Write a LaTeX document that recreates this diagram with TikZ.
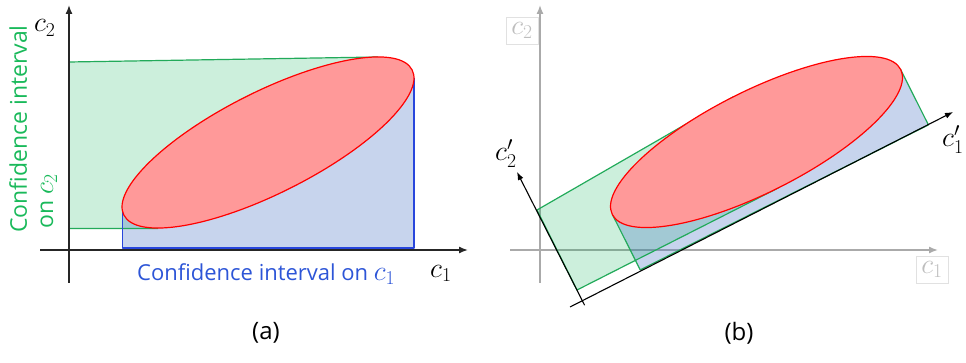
\RequirePackage{fix-cm}
\documentclass[tikz,border=0pt]{standalone}
\usepackage{fontspec}
\setmainfont{Open Sans}
\usetikzlibrary{arrows.meta,shapes.geometric}
\definecolor{gline}{RGB}{34,170,90}
\definecolor{gfill}{RGB}{0,176,80}
\definecolor{gtext}{RGB}{25,185,90}
\definecolor{bline}{RGB}{40,70,220}
\definecolor{bfill}{RGB}{68,114,196}
\definecolor{btext}{RGB}{45,85,215}
\definecolor{efill}{RGB}{255,153,153}
\definecolor{eline}{RGB}{255,0,0}
\definecolor{gaxis}{RGB}{170,170,170}
\definecolor{glabel}{RGB}{190,190,190}
\definecolor{gbox}{RGB}{225,225,225}
\newcommand{\mathbig}{\fontsize{28}{30}\selectfont}
\begin{document}
\begin{tikzpicture}[x=1pt,y=-1pt,
  axisline/.style={line width=1.4pt,draw=black!85,-{Latex[length=9pt,width=7pt]}},
  grayaxis/.style={line width=1.4pt,draw=gaxis,-{Latex[length=9pt,width=7pt]}},
  rotaxis/.style={line width=1.1pt,draw=black,-{Latex[length=8pt,width=6pt]}},
  greenfill/.style={fill=gfill,fill opacity=0.2,draw=none},
  bluefill/.style={fill=bfill,fill opacity=0.3,draw=none},
  greenedge/.style={draw=gline,line width=1.2pt,line join=round},
  blueedge/.style={draw=bline,line width=1.2pt,line join=round},
  conf/.style={ellipse,draw=eline,fill=efill,line width=1.2pt,inner sep=0pt,
    minimum width=322.8pt,minimum height=101.6pt,rotate=26.7},
  mlabel/.style={inner sep=0pt,font=\mathbig},
  graybox/.style={draw=gbox,line width=0.8pt,text=glabel,font=\mathbig,inner sep=0pt,
    minimum width=32pt,minimum height=27pt},
  caption/.style={font=\fontsize{24}{28}\selectfont,inner sep=0pt}
]
\useasboundingbox (0,0) rectangle (966,363);

% ---------------- (a) ----------------
\coordinate (gA1) at (69,62);
\coordinate (gA2) at (378,57);
\coordinate (gA3) at (158,228.5);
\coordinate (gA4) at (69,228.5);
\coordinate (bA1) at (122.5,207);
\coordinate (bA2) at (414,78);
\coordinate (bA3) at (414,248);
\coordinate (bA4) at (122.5,248);

\fill[greenfill] (gA1) -- (gA2) -- (gA3) -- (gA4) -- cycle;
\fill[bluefill] (bA1) -- (bA2) -- (bA3) -- (bA4) -- cycle;
\draw[greenedge] (gA2) -- (gA1) -- (gA4) -- (gA3);
\draw[blueedge] (bA1) -- (bA4) -- (bA3) -- (bA2);
\node[conf] (E1) at (268,142.5) {};

\coordinate (xa0) at (40,250);
\coordinate (xa1) at (468,250);
\coordinate (ya0) at (69,283);
\coordinate (ya1) at (69,5);
\draw[axisline] (xa0) -- (xa1);
\draw[axisline] (ya0) -- (ya1);

\node[mlabel,anchor=base west] (lc2) at (34,32) {$c_2$};
\node[mlabel,anchor=base west] (lc1) at (430,277) {$c_1$};
\node[anchor=base west,inner sep=0pt,text=btext,font=\fontsize{22}{26}\selectfont] (tc1)
  at (137,280) {Confidence interval on {\mathbig$c_1$}};
\node[anchor=base west,inner sep=0pt,text=gtext,rotate=90,font=\fontsize{23}{26}\selectfont] (tc2a)
  at (27,233) {Confidence interval};
\node[anchor=base west,inner sep=0pt,text=gtext,rotate=90,font=\fontsize{23}{26}\selectfont] (tc2b)
  at (53,229) {on {\mathbig$c_2$}};
\node[caption] (capa) at (266,333) {(a)};

% ---------------- (b) ----------------
\coordinate (xb0) at (510,250);
\coordinate (xb1) at (938,250);
\coordinate (yb0) at (540,283);
\coordinate (yb1) at (540,5);
\draw[grayaxis] (xb0) -- (xb1);
\draw[grayaxis] (yb0) -- (yb1);

\coordinate (gB1) at (537,210);
\coordinate (gB2) at (733.7,96.6);
\coordinate (gB3) at (779.3,187.4);
\coordinate (gB4) at (577,290);
\coordinate (bB1) at (612.4,214.5);
\coordinate (bB2) at (900.6,69.5);
\coordinate (bB3) at (928.4,124.9);
\coordinate (bB4) at (640.2,269.9);

\fill[greenfill] (gB1) -- (gB2) -- (gB3) -- (gB4) -- cycle;
\fill[bluefill] (bB1) -- (bB2) -- (bB3) -- (bB4) -- cycle;
\draw[greenedge] (gB2) -- (gB1) -- (gB4) -- (gB3);
\draw[greenedge] (bB1) -- (bB4) -- (bB3) -- (bB2);
\node[conf] (E2) at (756.5,142) {};

\coordinate (u0) at (570,307);
\coordinate (u1) at (953,112);
\coordinate (v0) at (584.6,305.2);
\coordinate (v1) at (517,172);
\draw[rotaxis] (u0) -- (u1);
\draw[rotaxis] (v0) -- (v1);

\node[graybox] (gc2) at (522,30.5) {$c_2$};
\node[graybox] (gc1) at (932,269.5) {$c_1$};
\node[mlabel,anchor=base west] (rc2) at (495,161) {$c_2'$};
\node[mlabel,anchor=base west] (rc1) at (942,147) {$c_1'$};
\node[caption] (capb) at (739,333) {(b)};
\end{tikzpicture}
\end{document}
